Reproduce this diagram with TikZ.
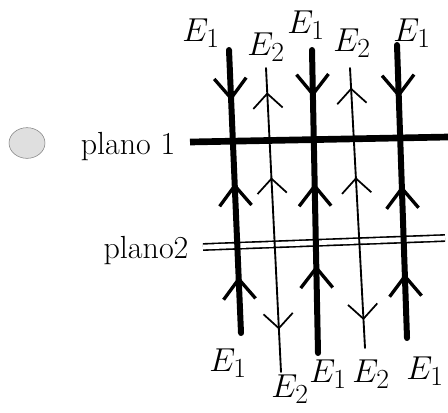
\documentclass[tikz,border=0pt]{standalone}
\usetikzlibrary{arrows.meta,decorations.markings,shapes.geometric}

\begin{document}
\begin{tikzpicture}[
        x=0.75pt, y=-0.75pt,
        fieldA/.style={line width=4.5pt, line cap=round},
        fieldB/.style={line width=1.4pt, line cap=round},
        % one reversed (down) and two forward (up) chevrons along a line drawn upwards
        marksA/.style n args={3}{postaction={decorate}, decoration={markings,
            mark=at position #1 with {\arrowreversed[line width=2.5pt]{Straight Barb[length=15pt, width=24pt]}},
            mark=at position #2 with {\arrow[line width=2.5pt]{Straight Barb[length=15pt, width=24pt]}},
            mark=at position #3 with {\arrow[line width=2.5pt]{Straight Barb[length=15pt, width=24pt]}}}},
        % one down chevron near the bottom, two up chevrons above
        marksB/.style n args={3}{postaction={decorate}, decoration={markings,
            mark=at position #1 with {\arrowreversed[line width=1.3pt]{Straight Barb[length=11pt, width=22pt]}},
            mark=at position #2 with {\arrow[line width=1.3pt]{Straight Barb[length=11pt, width=22pt]}},
            mark=at position #3 with {\arrow[line width=1.3pt]{Straight Barb[length=11pt, width=22pt]}}}},
        label/.style={font=\fontsize{28}{30}\selectfont, inner sep=0pt},
        planelabel/.style={font=\fontsize{24}{28}\selectfont, inner sep=0pt}
    ]

        \useasboundingbox (0,0) rectangle (448,412);

        % Dot
        \node[draw=gray, fill=gray!25, ellipse, minimum width=27pt, minimum height=23pt, inner sep=0pt] (dot) at (27,143) {};

        % Planes
        \node[planelabel] (p1) at (128,147) {plano 1};
        \node[planelabel] (p2) at (146,251) {plano2};
        \coordinate (p1l) at (190,142);
        \coordinate (p1r) at (448,137);
        \coordinate (p2l) at (203,247);
        \coordinate (p2r) at (445,238);
        \draw[line width=5pt] (p1l) -- (p1r);
        \draw[line width=1.2pt, double=white, double distance=3.5pt] (p2l) -- (p2r);

        % Line ends
        \coordinate (e1a-t) at (229,50);  \coordinate (e1a-b) at (241,333);
        \coordinate (e2a-t) at (266,68);  \coordinate (e2a-b) at (281,372);
        \coordinate (e1b-t) at (312,50);  \coordinate (e1b-b) at (318,353);
        \coordinate (e2b-t) at (350,68);  \coordinate (e2b-b) at (365,348);
        \coordinate (e1c-t) at (397,45);  \coordinate (e1c-b) at (407,338);

        % Field lines
        \draw[fieldA, marksA={0.82}{0.53}{0.20}] (e1a-b) -- (e1a-t);
        \draw[fieldB] (e2a-b) -- (e2a-t);
        \path[fieldB, marksB={0.14}{0.64}{0.92}] (e2a-b) -- (e2a-t);
        \draw[fieldA, marksA={0.845}{0.56}{0.29}] (e1b-b) -- (e1b-t);
        \draw[fieldB] (e2b-b) -- (e2b-t);
        \path[fieldB, marksB={0.10}{0.61}{0.93}] (e2b-b) -- (e2b-t);
        \draw[fieldA, marksA={0.82}{0.52}{0.22}] (e1c-b) -- (e1c-t);

        % Labels on top
        \node[label] (t1) at (201,33) {$E_1$};
        \node[label] (t2) at (266,47) {$E_2$};
        \node[label] (t3) at (306,25) {$E_1$};
        \node[label] (t4) at (352,43) {$E_2$};
        \node[label] (t5) at (412,33) {$E_1$};

        % Labels at the bottom
        \node[label] (b1) at (228,363) {$E_1$};
        \node[label] (b2) at (290,389) {$E_2$};
        \node[label] (b3) at (328,374) {$E_1$};
        \node[label] (b4) at (371,374) {$E_2$};
        \node[label] (b5) at (425,371) {$E_1$};

    \end{tikzpicture}
\end{document}
